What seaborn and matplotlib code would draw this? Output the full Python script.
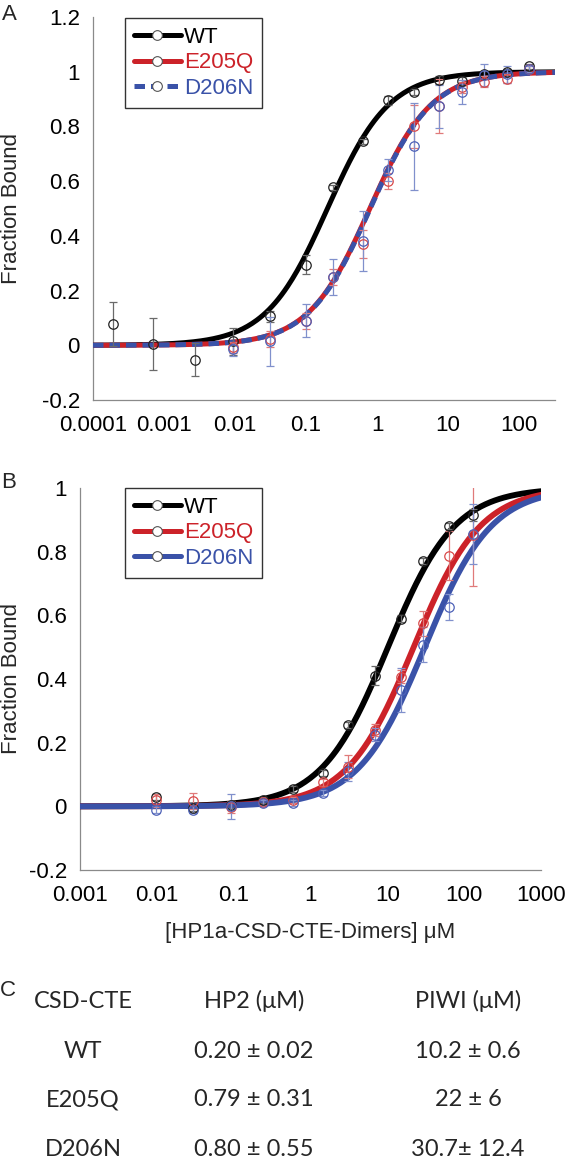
import matplotlib
matplotlib.use("Agg")
import matplotlib.pyplot as plt
import numpy as np
import pandas as pd
import seaborn as sns
from matplotlib.lines import Line2D
from matplotlib.ticker import LogLocator, MultipleLocator, FuncFormatter, NullFormatter

# ---- data ----
variants = ["WT", "E205Q", "D206N"]

# panel A: HP2 peptide
a_conc_wt = [0.00019, 0.0007, 0.0027, 0.0095, 0.031, 0.1, 0.24, 0.64, 1.44, 3.35, 7.5, 15.6, 32, 67, 138]
a_wt = [0.077, 0.006, -0.052, 0.015, 0.106, 0.294, 0.577, 0.745, 0.895, 0.926, 0.971, 0.965, 0.993, 0.999, 1.02]
a_wt_err = [0.08, 0.095, 0.06, 0.05, 0.02, 0.035, 0.01, 0.01, 0.015, 0.01, 0.015, 0.015, 0.01, 0.01, 0.01]

a_conc_mut = [0.0095, 0.031, 0.1, 0.24, 0.64, 1.44, 3.35, 7.5, 15.6, 32, 67, 138]
a_e205q = [-0.007, 0.024, 0.088, 0.25, 0.37, 0.60, 0.80, 0.875, 0.944, 0.963, 0.975, 1.01]
a_e205q_err = [0.02, 0.03, 0.03, 0.03, 0.05, 0.03, 0.08, 0.10, 0.02, 0.02, 0.015, 0.01]
a_d206n = [-0.015, 0.015, 0.09, 0.25, 0.38, 0.64, 0.727, 0.873, 0.926, 0.987, 0.99, 1.01]
a_d206n_err = [0.025, 0.09, 0.06, 0.065, 0.11, 0.04, 0.16, 0.08, 0.045, 0.04, 0.03, 0.01]

# panel B: PIWI peptide
b_conc = [0.0098, 0.030, 0.093, 0.24, 0.59, 1.45, 3.12, 6.9, 15.1, 29.4, 63, 132]
b_wt = [0.03, -0.005, 0.005, 0.02, 0.055, 0.105, 0.255, 0.41, 0.59, 0.77, 0.88, 0.915]
b_wt_err = [0.01, 0.01, 0.01, 0.01, 0.01, 0.01, 0.01, 0.03, 0.01, 0.01, 0.01, 0.02]
b_e205q = [0.019, 0.017, -0.002, 0.014, 0.02, 0.075, 0.125, 0.24, 0.407, 0.575, 0.787, 0.853]
b_e205q_err = [0.02, 0.025, 0.02, 0.01, 0.01, 0.01, 0.035, 0.02, 0.02, 0.04, 0.077, 0.16]
b_d206n = [-0.01, -0.01, 0.0, 0.01, 0.01, 0.042, 0.11, 0.225, 0.366, 0.507, 0.626, 0.855]
b_d206n_err = [0.01, 0.01, 0.04, 0.01, 0.01, 0.01, 0.03, 0.02, 0.07, 0.055, 0.04, 0.095]

# fitted Kd values (table C)
hp2_kd = [0.20, 0.79, 0.80]
piwi_kd = [10.2, 22, 30.7]
hp2_txt = ["0.20 \u00b1 0.02", "0.79 \u00b1 0.31", "0.80 \u00b1 0.55"]
piwi_txt = ["10.2 \u00b1 0.6", "22 \u00b1 6", "30.7\u00b1 12.4"]

COLORS = {"WT": "#000000", "E205Q": "#cc2229", "D206N": "#3a52a8"}
ERRC = {"WT": "#6a6a6a", "E205Q": "#e07a7a", "D206N": "#8090cc"}
MEC = {"WT": "#222222", "E205Q": "#d94a4a", "D206N": "#4e62b8"}
FS = 16

sns.set_theme(style="white")
plt.rcParams["font.family"] = ["Liberation Sans", "DejaVu Sans"]
plt.rcParams["axes.unicode_minus"] = False

W, H = 566, 1161
fig = plt.figure(figsize=(W / 100, H / 100), dpi=100)


def frac(px, py):
    return px / W, 1 - py / H


def style_axis(ax, xlim, ylim):
    ax.set_xscale("log")
    ax.set_xlim(*xlim)
    ax.set_ylim(*ylim)
    for s in ["top", "right"]:
        ax.spines[s].set_visible(False)
    for s in ["left", "bottom"]:
        ax.spines[s].set_color("#8a8a8a")
        ax.spines[s].set_linewidth(0.9)
    ax.xaxis.set_major_locator(LogLocator(base=10, numticks=20))
    ax.xaxis.set_minor_locator(LogLocator(base=10, subs=np.arange(2, 10), numticks=20))
    ax.xaxis.set_major_formatter(FuncFormatter(lambda v, _: f"{v:g}"))
    ax.xaxis.set_minor_formatter(NullFormatter())
    ax.yaxis.set_major_locator(MultipleLocator(0.2))
    ax.yaxis.set_minor_locator(MultipleLocator(0.05))
    ax.yaxis.set_major_formatter(FuncFormatter(lambda v, _: f"{round(v, 2) + 0.0:g}"))
    ax.tick_params(axis="both", which="both", direction="in", color="#8a8a8a",
                   labelsize=FS, labelcolor="black", width=0.8)
    ax.tick_params(axis="x", which="major", length=6, pad=10.5)
    ax.tick_params(axis="x", which="minor", length=4)
    ax.tick_params(axis="y", which="major", length=5, pad=9.5)
    ax.tick_params(axis="y", which="minor", length=4)
    ax.grid(False)


def draw_points(ax, conc, y, err, name):
    ax.errorbar(conc, y, yerr=err, fmt="o", ms=6.8, mfc="none", mec=MEC[name], mew=0.9,
                ecolor=ERRC[name], elinewidth=0.9, capsize=3, capthick=0.9, zorder=5)


def legend(ax, anchor, dashed_last):
    handles = []
    for name in variants:
        ls = (0, (2.1, 1.2)) if (dashed_last and name == "D206N") else "-"
        handles.append(Line2D([0], [0], color=COLORS[name], lw=3.6, ls=ls, marker="o", ms=7,
                              mfc="white", mec="#555555", mew=0.8))
    leg = ax.legend(handles, variants, loc="upper left", bbox_to_anchor=anchor,
                    bbox_transform=fig.transFigure, borderaxespad=0, fontsize=FS,
                    handlelength=2.1, handletextpad=0.15, labelspacing=0.2, borderpad=0.4,
                    fancybox=False, frameon=True, labelcolor=[COLORS[n] for n in variants])
    leg.get_frame().set_edgecolor("black")
    leg.get_frame().set_linewidth(1.0)


# ---- panel A ----
l, r, t, b = 93, 555, 17, 400
axA = fig.add_axes([l / W, 1 - b / H, (r - l) / W, (b - t) / H])
xa = np.logspace(-4, np.log10(320), 300)
fitA = pd.concat([pd.DataFrame({"conc": xa, "bound": xa / (kd + xa), "variant": v})
                  for v, kd in zip(variants, hp2_kd)])
for v in variants:
    sns.lineplot(data=fitA[fitA.variant == v], x="conc", y="bound", ax=axA,
                 color=COLORS[v], lw=3.6, estimator=None, sort=False, legend=False, zorder=3)
axA.lines[-1].set_dashes((2.1, 1.2))
axA.lines[-1].set_dash_capstyle("butt")
draw_points(axA, a_conc_wt, a_wt, a_wt_err, "WT")
draw_points(axA, a_conc_mut, a_e205q, a_e205q_err, "E205Q")
draw_points(axA, a_conc_mut, a_d206n, a_d206n_err, "D206N")
style_axis(axA, (1e-4, 320), (-0.2, 1.2))
axA.set_xlabel("")
axA.set_ylabel("Fraction Bound", fontsize=FS)
axA.yaxis.set_label_coords((22 - l) / (r - l), 0.5)
legend(axA, frac(125, 18), True)

# ---- panel B ----
l, r, t, b = 80, 541, 488, 870
axB = fig.add_axes([l / W, 1 - b / H, (r - l) / W, (b - t) / H])
xb = np.logspace(-3, 3, 300)
fitB = pd.concat([pd.DataFrame({"conc": xb, "bound": xb / (kd + xb), "variant": v})
                  for v, kd in zip(variants, piwi_kd)])
for v in variants:
    sns.lineplot(data=fitB[fitB.variant == v], x="conc", y="bound", ax=axB,
                 color=COLORS[v], lw=4.2, estimator=None, sort=False, legend=False, zorder=3)
draw_points(axB, b_conc, b_wt, b_wt_err, "WT")
draw_points(axB, b_conc, b_e205q, b_e205q_err, "E205Q")
draw_points(axB, b_conc, b_d206n, b_d206n_err, "D206N")
style_axis(axB, (1e-3, 1e3), (-0.2, 1.0))
axB.set_xlabel("[HP1a-CSD-CTE-Dimers] \u03bcM", fontsize=FS)
axB.xaxis.set_label_coords(0.5, (870 - 922) / (b - t))
axB.set_ylabel("Fraction Bound", fontsize=FS)
axB.yaxis.set_label_coords((22 - l) / (r - l), 0.5)
legend(axB, frac(125, 488), False)

# ---- panel letters ----
for letter, (px, py) in zip("ABC", [(9, 14), (9, 482), (8, 990)]):
    fig.text(*frac(px, py), letter, fontsize=FS, ha="center", va="center")

# ---- panel C table ----
tfont = ["Lato", "DejaVu Sans"]
col_x = [83, 254, 468]
header = ["CSD-CTE", "HP2 (\u03bcM)", "PIWI (\u03bcM)"]
for cx, txt in zip(col_x, header):
    fig.text(*frac(cx, 1001), txt, fontsize=17, ha="center", va="center", family=tfont)
for i, name in enumerate(variants):
    y = [1052, 1100, 1150][i]
    for cx, txt in zip(col_x, [name, hp2_txt[i], piwi_txt[i]]):
        fig.text(*frac(cx, y), txt, fontsize=17, ha="center", va="center", family=tfont)

fig.savefig("out.png", dpi=100)
